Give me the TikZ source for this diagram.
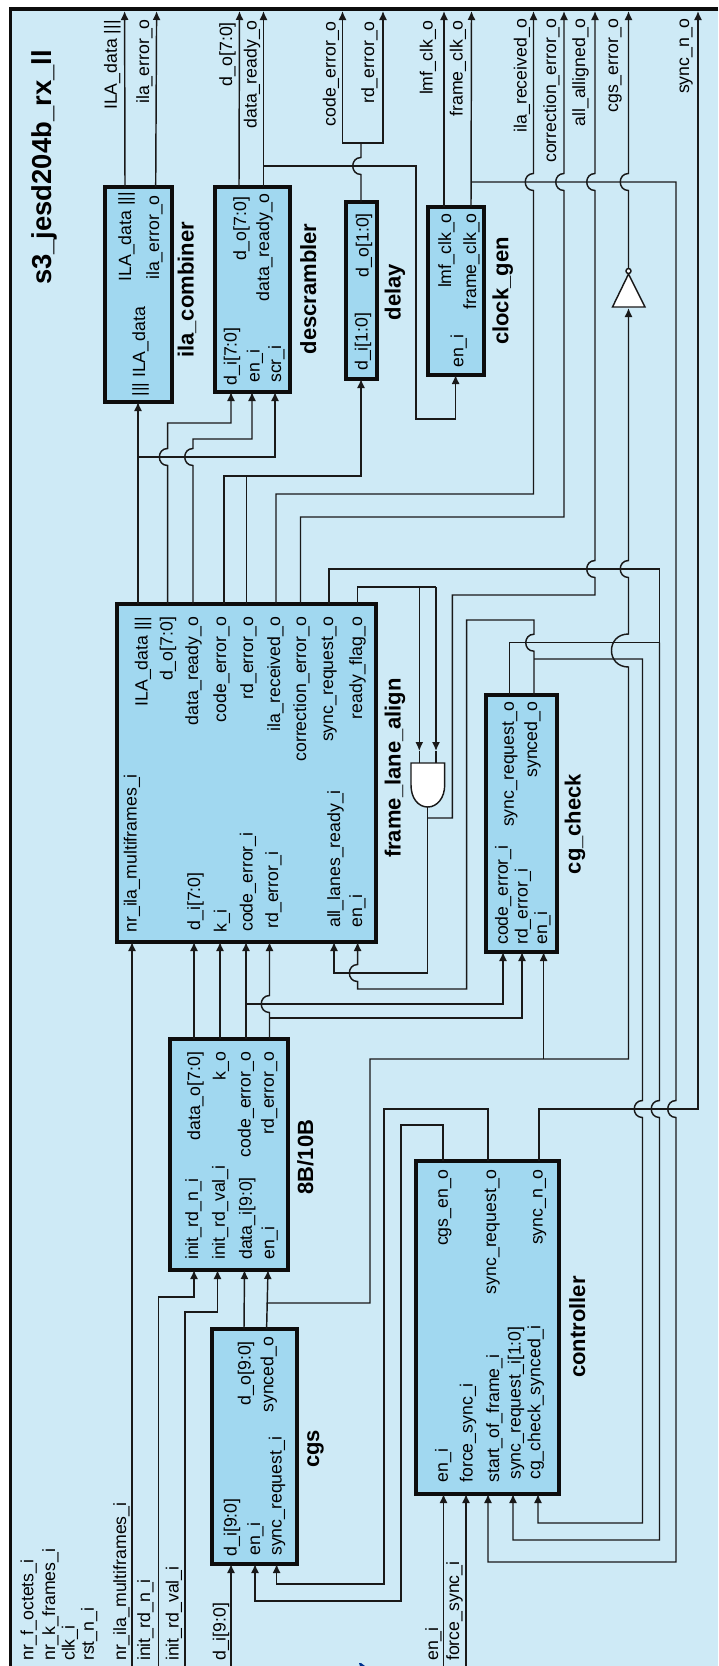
\documentclass[tikz,border=0pt]{standalone}
\usepackage{fontspec}
\setmainfont{Liberation Sans}
\usetikzlibrary{arrows.meta}
\definecolor{framebg}{HTML}{CEEAF6}
\definecolor{blockfill}{HTML}{A1D8F0}
\tikzset{
    wire/.style={line width=1.45pt,color=black!90},
    sig/.style={wire,-{Latex[length=9pt,width=8pt]}},
    blockbox/.style={draw=black!95,fill=blockfill,line width=3.4pt,inner sep=0pt},
    outlabel/.style={rotate=90,anchor=base east,inner sep=0pt,font=\fontsize{17.7}{20}\selectfont},
    inlabel/.style={rotate=90,anchor=base west,inner sep=0pt,font=\fontsize{17.7}{20}\selectfont},
    blockname/.style={rotate=90,anchor=base,inner sep=0pt,font=\fontsize{22}{24}\selectfont\bfseries},
}
% a wire that jumps to the left over a horizontal wire
\newcommand{\hopup}[2]{-- (#1,#2+8.5) .. controls (#1-11,#2+8.5) and (#1-11,#2-8.5) .. (#1,#2-8.5)}
\newcommand{\hopdn}[2]{-- (#1,#2-8.5) .. controls (#1-11,#2-8.5) and (#1-11,#2+8.5) .. (#1,#2+8.5)}
\newcommand{\hopbig}[2]{-- (#1,#2+16.5) .. controls (#1-22.7,#2+16.5) and (#1-22.7,#2-16.5) .. (#1,#2-16.5)}
\begin{document}
\begin{tikzpicture}[x=1pt,y=-1pt]
    \useasboundingbox (0,0) rectangle (718,1666);

    % outer frame
    \fill[framebg] (10.3,9) rectangle (718,1666);
    \draw[line width=3.2pt,black!95] (718,9) -- (10.3,9) -- (10.3,1666);
    \node[rotate=90,anchor=base east,inner sep=0pt,font=\fontsize{27.4}{30}\selectfont\bfseries] (title) at (51,50) {s3\_jesd204b\_rx\_ll};
    \fill[blue!45!black!80!cyan] (359,1663) -- (361,1663) -- (365,1666) -- (360,1666) -- cycle;

    % blocks
    \foreach \bname/\cx/\cy/\bw/\bh in {ila_combiner/138.5/294.5/67/215, descrambler/252.5/289.5/75/205,
        delay/361.5/290.5/31/177, clock_gen/456/291/56/168, frame_lane_align/246.5/773/259/338,
        cg_check/521.5/823.5/71/257, enc_8b10b/229/1154.5/118/231, cgs/254.5/1446.5/85/235,
        controller/487.5/1327.5/143/333}
        \node[blockbox,minimum width=\bw pt,minimum height=\bh pt] (\bname) at (\cx,\cy) {};

    % block names
    \node[blockname] (name_ila) at (193.7,290) {ila\_combiner};
    \node[blockname] (name_dsc) at (316,289) {descrambler};
    \node[blockname] (name_dly) at (400.7,292) {delay};
    \node[blockname] (name_clk) at (508.4,291) {clock\_gen};
    \node[blockname] (name_fla) at (400.7,768) {frame\_lane\_align};
    \node[blockname] (name_cgc) at (580.7,824) {cg\_check};
    \node[blockname] (name_enc) at (313,1157) {8B/10B};
    \node[blockname] (name_cgs) at (319,1449) {cgs};
    \node[blockname] (name_ctl) at (585,1327) {controller};

    % output labels, top end fixed
    \foreach \ltext/\lx/\ly [count=\i] in {
        ILA\_data |||/116.8/20, ila\_error\_o/149/19, d\_o[7:0]/232/22, data\_ready\_o/256.5/20,
        code\_error\_o/335.6/21, rd\_error\_o/374/21, lmf\_clk\_o/432.7/20, frame\_clk\_o/462.5/20,
        ila\_received\_o/526.6/18, correction\_error\_o/556/18, all\_alligned\_o/585/18,
        cgs\_error\_o/618/18, sync\_n\_o/689/18,
        ILA\_data |||/131/191.7, ila\_error\_o/159/195, d\_o[7:0]/246/196.7, data\_ready\_o/269/193,
        d\_o[1:0]/368.6/213, lmf\_clk\_o/451/213, frame\_clk\_o/476/213,
        ILA\_data |||/147.5/616.7, d\_o[7:0]/172.6/616.7, data\_ready\_o/198/616.7,
        code\_error\_o/226/616.7, rd\_error\_o/253/616.7, ila\_received\_o/280/616.7,
        correction\_error\_o/306/616.7, sync\_request\_o/333/616.7, ready\_flag\_o/362/616.7,
        sync\_request\_o/513.8/701.7, synced\_o/537/701.7,
        data\_o[7:0]/200/1051.7, k\_o/225.7/1051.7, code\_error\_o/250.5/1051.7, rd\_error\_o/273.8/1051.7,
        d\_o[9:0]/250.5/1341, synced\_o/273.4/1336.7,
        cgs\_en\_o/447.8/1169, sync\_request\_o/496/1169, sync\_n\_o/542.6/1169}
        \node[outlabel] (outlbl\i) at (\lx,\ly) {\ltext};

    % input labels, bottom end fixed
    \foreach \ltext/\lx/\ly [count=\i] in {
        ||| ILA\_data/145/396.7, d\_i[7:0]/236.7/385.7, en\_i/259.7/383, scr\_i/281/383,
        d\_i[1:0]/367.7/371, en\_i/463.4/368,
        nr\_ila\_multiframes\_i/136.5/932.7, d\_i[7:0]/200/930.7, k\_i/226.7/932.7, code\_error\_i/252.7/932,
        rd\_error\_i/278/928.7, all\_lanes\_ready\_i/340/928, en\_i/362/928,
        code\_error\_i/507.8/945, rd\_error\_i/527.5/945, en\_i/547/945,
        init\_rd\_n\_i/198/1260, init\_rd\_val\_i/224.8/1260, data\_i[9:0]/251.9/1260, en\_i/274.3/1260,
        d\_i[9:0]/236.7/1556.7, en\_i/260/1556, sync\_request\_i/281.6/1556,
        en\_i/447.8/1482.7, force\_sync\_i/472.5/1482.7, start\_of\_frame\_i/499/1482.7,
        sync\_request\_i[1:0]/520.6/1480, cg\_check\_synced\_i/540.3/1480,
        nr\_f\_octets\_i/33.4/1661, nr\_k\_frames\_i/55/1661, clk\_i/74.6/1661, rst\_n\_i/93.9/1661,
        nr\_ila\_multiframes\_i/126/1661, init\_rd\_n\_i/150/1661, init\_rd\_val\_i/178.6/1661,
        d\_i[9:0]/225.7/1661, en\_i/438/1661, force\_sync\_i/459/1661}
        \node[inlabel] (inlbl\i) at (\lx,\ly) {\ltext};

    % wire ends at the frame
    \foreach \pname/\px in {top_ila_data/124.6, top_ila_error/156.6, top_d_o/239.5, top_data_ready/263.5,
        top_code_error/342.5, top_rd_error/383, top_lmf_clk/444, top_frame_clk/471.5, top_ila_received/533.5,
        top_correction/564, top_all_alligned/595, top_cgs_error/628.5, top_sync_n/698}
        \coordinate (\pname) at (\px,11);
    \foreach \pname/\px in {ext_nr_ila/132, ext_init_rd_n/158.4, ext_init_rd_val/185, ext_d_i/231,
        ext_en/443.5, ext_force_sync/466}
        \coordinate (\pname) at (\px,1666);

    % wire ends at the blocks
    \foreach \pname/\px in {ilac_ila_data/125, ilac_error/155.7, dsc_d_o/239, dsc_data_ready/263.5}
        \coordinate (\pname) at (\px,187);
    \foreach \pname/\px/\py in {ilac_in/138/402, dsc_d_i/231/392, dsc_en/252/392, dsc_scr/275/392,
        dly_d_o/361/202, dly_d_i/361/379, clk_lmf/444/207, clk_frame/471/207, clk_en/455.6/375}
        \coordinate (\pname) at (\px,\py);
    \foreach \pname/\px in {fla_ila_data/138, fla_d_o/167.6, fla_data_ready/193, fla_code_error/224,
        fla_rd_error/246.4, fla_ila_received/276, fla_correction/300.5, fla_sync_request/329, fla_ready_flag/357.6}
        \coordinate (\pname) at (\px,604);
    \foreach \pname/\px in {fla_nr_ila/132, fla_d_i/194, fla_k/220, fla_code_in/246, fla_rd_in/269.5,
        fla_all_lanes/334, fla_en/357.6}
        \coordinate (\pname) at (\px,942);
    \foreach \pname/\px/\py in {cgc_sync_request/509.7/695, cgc_synced/534/695, cgc_code_in/503/952,
        cgc_rd_in/522/952, cgc_en/543.6/952}
        \coordinate (\pname) at (\px,\py);
    \foreach \pname/\px in {enc_data/194, enc_k/220, enc_code/246, enc_rd/269.5}
        \coordinate (\pname) at (\px,1039);
    \foreach \pname/\px in {enc_init_rd_n/194, enc_init_rd_val/217.5, enc_data_i/244.5, enc_en/268}
        \coordinate (\pname) at (\px,1270);
    \foreach \pname/\px/\py in {cgs_d_o/244/1329, cgs_synced/266.6/1329, cgs_d_i/231/1564, cgs_en/255/1564,
        cgs_sync_request/276.6/1564}
        \coordinate (\pname) at (\px,\py);
    \foreach \pname/\px in {ctl_cgs_en/443, ctl_sync_request/488, ctl_sync_n/539}
        \coordinate (\pname) at (\px,1161);
    \foreach \pname/\px in {ctl_en/443.5, ctl_force_sync/466, ctl_start/488, ctl_sync_in/513, ctl_cg_synced/538}
        \coordinate (\pname) at (\px,1494);

    % gates
    \coordinate (and_a) at (419.3,763);
    \coordinate (and_b) at (436,763);
    \coordinate (and_out) at (427.5,807);
    \coordinate (inv_in) at (628.5,308);
    \coordinate (inv_out) at (628.5,268.5);

    % top outputs
    \draw[sig] (ilac_ila_data) -- (top_ila_data);
    \draw[sig] (ilac_error) -- (top_ila_error);
    \draw[sig] (dsc_d_o) -- (top_d_o);
    \draw[sig] (dsc_data_ready) -- (top_data_ready);
    \draw[sig] (clk_lmf) -- (top_lmf_clk);
    \draw[sig] (clk_frame) -- (top_frame_clk);
    \draw[wire] (dly_d_o) \hopup{361}{166} -- (361,143);
    \draw[sig] (361,143) -| (top_code_error);
    \draw[sig] (361,143) -| (top_rd_error);
    \draw[sig] (263.5,166) -- (416,166) -- (416,419) -- (455.6,419) -- (clk_en);
    \draw[sig] (471.5,182) -- (676,182) \hopdn{676}{1109} -- (676,1562) -- (488,1562) -- (ctl_start);

    % frame_lane_align to the blocks above
    \draw[sig] (fla_ila_data) -- (ilac_in);
    \draw[sig] (138,457) -- (275,457) -- (dsc_scr);
    \draw[sig] (fla_d_o) \hopup{167.6}{457} -- (167.6,423) -- (231,423) -- (dsc_d_i);
    \draw[sig] (fla_data_ready) \hopup{193}{457} -- (193,439) -- (252,439) -- (dsc_en);
    \draw[sig] (fla_code_error) -- (224,476) -- (361,476) -- (dly_d_i);
    \draw[wire] (fla_rd_error) -- (246.4,476);
    \draw[sig] (fla_ila_received) -- (276,494) -- (533.5,494) \hopup{533.5}{182} -- (top_ila_received);
    \draw[sig] (fla_correction) -- (300.5,517) -- (564,517) \hopup{564}{182} -- (top_correction);

    % sync request
    \draw[wire] (fla_sync_request) -- (329,569) -- (659.5,569) -- (659.5,642.7);
    \draw[wire] (cgc_sync_request) -- (509.7,642.7) -- (659.5,642.7);
    \draw[sig] (659.5,642.7) \hopdn{659.5}{1109} -- (659.5,1540) -- (513,1540) -- (ctl_sync_in);

    % and gate
    \draw[wire] (fla_ready_flag) -- (357.6,587) -- (436,587);
    \draw[sig] (419.3,587) -- (419.3,751);
    \draw[sig] (436,587) -- (436,751);
    \draw[wire] (419.3,751) -- (and_a);
    \draw[wire] (436,751) -- (and_b);
    \draw[wire,fill=white] (411,763) -- (444.7,763) -- (444.7,785) .. controls (444.7,798) and (437,807) .. (427.8,807)
        .. controls (418,807) and (411,798) .. (411,785) -- cycle;
    \draw[sig] (and_out) -- (427.5,973) -- (334,973) -- (fla_all_lanes);
    \draw[sig] (427.5,818) -- (452.4,818) -- (452.4,595) -- (595,595) \hopup{595}{569} \hopup{595}{182} -- (top_all_alligned);

    % cg_check
    \draw[sig] (cgc_synced) \hopup{534}{642.7} -- (534,620) -- (466.6,620) -- (466.6,989) -- (357.6,989) \hopup{357.6}{973} -- (fla_en);
    \draw[sig] (534,659) -- (642.5,659) \hopdn{642.5}{1109} -- (642.5,1523) -- (538,1523) -- (ctl_cg_synced);

    % inverter and cgs_error
    \draw[sig] (cgs_synced) -- (enc_en);
    \draw[sig] (266.6,1303) -- (370,1303) -- (370,1059) -- (628.5,1059) \hopbig{628.5}{650.5} \hopup{628.5}{569} -- (inv_in);
    \draw[sig] (543.6,1059) -- (cgc_en);
    \draw[wire,fill=white] (612.5,307) -- (645,307) -- (628.5,274) -- cycle;
    \draw[wire,fill=white] (628.5,271) circle (2.5pt);
    \draw[sig] (inv_out) \hopup{628.5}{182} -- (top_cgs_error);

    % 8B/10B
    \draw[sig] (enc_data) -- (fla_d_i);
    \draw[sig] (enc_k) -- (fla_k);
    \draw[sig] (enc_code) -- (fla_code_in);
    \draw[sig] (enc_rd) \hopup{269.5}{1004} -- (fla_rd_in);
    \draw[sig] (246,1004) -- (503,1004) -- (cgc_code_in);
    \draw[sig] (269.5,1018) -- (522,1018) -- (cgc_rd_in);
    \draw[sig] (ext_nr_ila) -- (fla_nr_ila);
    \draw[sig] (ext_init_rd_n) -- (158.4,1297) -- (194,1297) -- (enc_init_rd_n);
    \draw[sig] (ext_init_rd_val) -- (185,1312) -- (217.5,1312) -- (enc_init_rd_val);
    \draw[sig] (cgs_d_o) -- (enc_data_i);
    \draw[sig] (ext_d_i) -- (cgs_d_i);

    % controller
    \draw[sig] (ctl_cgs_en) -- (443,1125) -- (401,1125) -- (401,1601) -- (255,1601) -- (cgs_en);
    \draw[sig] (ctl_sync_request) -- (488,1109) -- (384,1109) -- (384,1584) -- (276.6,1584) -- (cgs_sync_request);
    \draw[sig] (ctl_sync_n) -- (539,1109) -- (698,1109) -- (top_sync_n);
    \draw[sig] (ext_en) -- (ctl_en);
    \draw[sig] (ext_force_sync) -- (ctl_force_sync);
\end{tikzpicture}
\end{document}
